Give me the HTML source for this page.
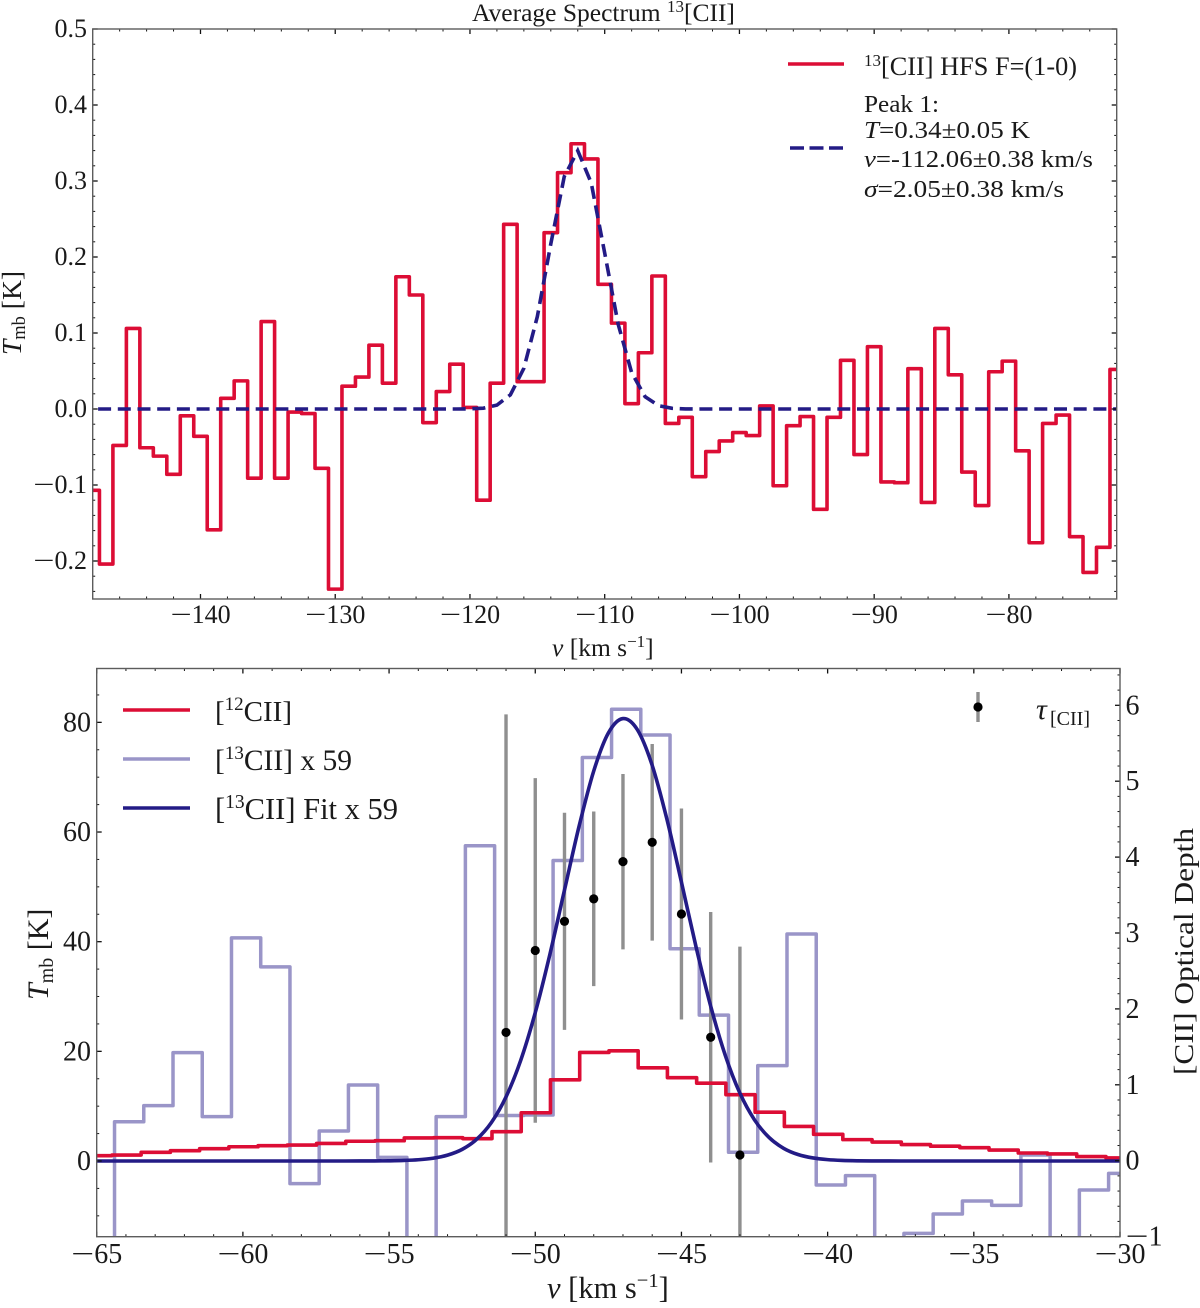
<!DOCTYPE html>
<html lang="en">
<head>
<meta charset="utf-8">
<title>Average Spectrum 13[CII]</title>
<style>
html,body{margin:0;padding:0;background:#fff;}
svg{display:block;}
text{font-family:"Liberation Serif","DejaVu Serif",serif;fill:#1a1a1a;}
.it{font-style:italic;}
</style>
</head>
<body>
<svg id="figure" xmlns="http://www.w3.org/2000/svg" width="1200" height="1308" viewBox="0 0 1200 1308">
<defs>
<clipPath id="clip-top"><rect x="92.7" y="29" width="1024" height="570"/></clipPath>
<clipPath id="clip-bot"><rect x="96.7" y="668.5" width="1023.3" height="568.2"/></clipPath>
</defs>
<rect x="0" y="0" width="1200" height="1308" fill="#fff"/>

<g id="top-plot"></g>
<g id="bot-plot"></g>

<text x="472" y="21" font-size="25.5">Average Spectrum <tspan font-size="17" dy="-9">13</tspan><tspan dy="9">[CII]</tspan></text>

<text transform="translate(21,355) rotate(-90)" font-size="27.5"><tspan class="it">T</tspan><tspan font-size="18.5" dy="4">mb</tspan><tspan dy="-4"> [K]</tspan></text>
<text x="552" y="656" font-size="25.5"><tspan class="it">v</tspan> [km s<tspan font-size="17" dy="-9">−1</tspan><tspan dy="9">]</tspan></text>

<g>
<line x1="788" y1="64" x2="844" y2="64" stroke="#dc0d35" stroke-width="3.5"/>
<text x="864" y="75" font-size="26.3"><tspan font-size="17" dy="-9">13</tspan><tspan dy="9">[CII] HFS F=(1-0)</tspan></text>
<line x1="790" y1="148" x2="844" y2="148" stroke="#231b86" stroke-width="3.5" stroke-dasharray="14,5.5"/>
<text x="864" y="112" font-size="24.5" textLength="75" lengthAdjust="spacingAndGlyphs">Peak 1:</text>
<text x="864" y="138" font-size="24.5" textLength="166" lengthAdjust="spacingAndGlyphs"><tspan class="it">T</tspan>=0.34±0.05 K</text>
<text x="864" y="167" font-size="24.5" textLength="229" lengthAdjust="spacingAndGlyphs"><tspan class="it">v</tspan>=-112.06±0.38 km/s</text>
<text x="864" y="197" font-size="24.5" textLength="200" lengthAdjust="spacingAndGlyphs"><tspan class="it">σ</tspan>=2.05±0.38 km/s</text>
</g>

<text transform="translate(48,1000) rotate(-90)" font-size="30"><tspan class="it">T</tspan><tspan font-size="20" dy="5">mb</tspan><tspan dy="-5"> [K]</tspan></text>
<text transform="translate(1193,1075) rotate(-90)" font-size="27" textLength="247" lengthAdjust="spacingAndGlyphs">[CII] Optical Depth</text>
<text x="547" y="1298" font-size="30.5"><tspan class="it">v</tspan> [km s<tspan font-size="20.5" dy="-11">−1</tspan><tspan dy="11">]</tspan></text>

<g>
<line x1="123" y1="710" x2="190" y2="710" stroke="#dc0d35" stroke-width="3.5"/>
<text x="215" y="721" font-size="29">[<tspan font-size="19" dy="-11">12</tspan><tspan dy="11">CII]</tspan></text>
<line x1="123" y1="759" x2="190" y2="759" stroke="#9a95c8" stroke-width="3.5"/>
<text x="215" y="770" font-size="29.5">[<tspan font-size="19" dy="-11">13</tspan><tspan dy="11">CII] x 59</tspan></text>
<line x1="123" y1="808" x2="190" y2="808" stroke="#231b86" stroke-width="3.5"/>
<text x="215" y="819" font-size="30.5">[<tspan font-size="19.5" dy="-11">13</tspan><tspan dy="11">CII] Fit x 59</tspan></text>
<line x1="978" y1="692" x2="978" y2="722" stroke="#8f8f8f" stroke-width="3.4"/>
<circle cx="978" cy="707" r="4.6" fill="#000"/>
<text x="1036" y="719" font-size="30" class="it">τ</text>
<text x="1050" y="725" font-size="20" textLength="40" lengthAdjust="spacingAndGlyphs">[CII]</text>
</g>

<script>
/* ---------- top panel data ---------- */
const topChannels = [-148,-147,-146,-145,-144,-143,-142,-141,-140,-139,-138,-137,-136,-135,-134,-133,-132,-131,-130,-129,-128,-127,-126,-125,-124,-123,-122,-121,-120,-119,-118,-117,-116,-115,-114,-113,-112,-111,-110,-109,-108,-107,-106,-105,-104,-103,-102,-101,-100,-99,-98,-97,-96,-95,-94,-93,-92,-91,-90,-89,-88,-87,-86,-85,-84,-83,-82,-81,-80,-79,-78,-77,-76,-75,-74,-73,-72];
const topSpectrum = [-0.107,-0.204,-0.048,0.106,-0.051,-0.062,-0.086,-0.009,-0.036,-0.159,
0.014,0.037,-0.091,0.115,-0.091,-0.004,-0.006,-0.078,-0.237,0.030,
0.042,0.084,0.034,0.174,0.150,-0.018,0.023,0.059,0.002,-0.120,
0.034,0.243,0.036,0.036,0.232,0.311,0.349,0.329,0.164,0.113,
0.007,0.074,0.175,-0.019,-0.011,-0.089,-0.056,-0.042,-0.031,-0.035,
0.004,-0.101,-0.022,-0.010,-0.132,-0.011,0.064,-0.060,0.082,-0.096,
-0.097,0.053,-0.123,0.106,0.045,-0.083,-0.127,0.049,0.063,-0.055,
-0.176,-0.019,-0.008,-0.168,-0.215,-0.182,0.052];
const topFitChannels = [-147.6,-147,-146,-145,-144,-143,-142,-141,-140,-139,-138,-137,-136,-135,-134,-133,-132,-131,-130,-129,-128,-127,-126,-125,-124,-123,-122,-121,-120,-119,-118,-117,-116,-115,-114,-113,-112,-111,-110,-109,-108,-107,-106,-105,-104,-103,-102,-101,-100,-99,-98,-97,-96,-95,-94,-93,-92,-91,-90,-89,-88,-87,-86,-85,-84,-83,-82,-81,-80,-79,-78,-77,-76,-75,-74,-73,-72];
const topFit = [0,0,0,0,0,0,0,0,0,0,0,0,0,0,0,0,0,0,0,0,0,0,0,0,0,0,0,0,
0.0002,0.0011,0.0051,0.0187,0.0536,0.1216,0.2173,0.306,0.3399,0.2975,0.2052,0.1116,0.0478,0.0162,0.0043,0.0009,0.0001,
0,0,0,0,0,0,0,0,0,0,0,0,0,0,0,0,0,0,0,0,0,0,0,0,0,0,0,0,0,0,0,0];
const topXTicks = [-140,-130,-120,-110,-100,-90,-80];
const topXMinor = [-146,-144,-142,-138,-136,-134,-132,-128,-126,-124,-122,-118,-116,-114,-112,-108,-106,-104,-102,-98,-96,-94,-92,-88,-86,-84,-82,-78,-76,-74];
const topYTicks = [-0.2,-0.1,0,0.1,0.2,0.3,0.4,0.5];
const topYMinor = [-0.24,-0.22,-0.18,-0.16,-0.14,-0.12,-0.08,-0.06,-0.04,-0.02,0.02,0.04,0.06,0.08,0.12,0.14,0.16,0.18,0.22,0.24,0.26,0.28,0.32,0.34,0.36,0.38,0.42,0.44,0.46,0.48];
const topYLabels = ['−0.2','−0.1','0.0','0.1','0.2','0.3','0.4','0.5'];

/* ---------- bottom panel data ---------- */
const channels12 = [-64.98,-63.98,-62.98,-61.98,-60.98,-59.98,-58.98,-57.98,-56.98,-55.98,-54.98,-53.98,-52.98,-51.98,-50.98,-49.98,-48.98,-47.98,-46.98,-45.98,-44.98,-43.98,-42.98,-41.98,-40.98,-39.98,-38.98,-37.98,-36.98,-35.98,-34.98,-33.98,-32.98,-31.98,-30.98,-29.98];
const spectrum12 = [0.97,1.09,1.58,1.88,2.25,2.6,2.8,2.9,3.2,3.6,3.7,4.2,4.25,4.07,5.35,8.8,14.8,19.8,20.1,17.0,15.2,14.2,12.1,8.9,6.3,4.86,3.9,3.46,3.0,2.7,2.43,2.0,1.46,1.28,0.8,0.55];
const channels13 = [-64.89,-63.89,-62.89,-61.89,-60.89,-59.89,-58.89,-57.89,-56.89,-55.89,-54.89,-53.89,-52.89,-51.89,-50.89,-49.89,-48.89,-47.89,-46.89,-45.89,-44.89,-43.89,-42.89,-41.89,-40.89,-39.89,-38.89,-37.89,-36.89,-35.89,-34.89,-33.89,-32.89,-31.89,-30.89,-29.89];
const spectrum13 = [-20,7.17,10.1,19.76,8.1,40.7,35.4,-4.13,5.47,13.86,0.67,-20,8.1,57.5,8.3,8.4,54.8,73.6,82.4,77.7,38.7,26.6,1.6,17.4,41.4,-4.38,-2.67,-20,-13.2,-9.67,-7.3,-8.1,1.1,-20,-5.3,-2.25];
const fitChannels = [-65,-64.5,-64,-63.5,-63,-62.5,-62,-61.5,-61,-60.5,-60,-59.5,-59,-58.5,-58,-57.5,-57,-56.5,-56,-55.5,-55,-54.5,-54,-53.5,-53,-52.5,-52,-51.5,-51,-50.5,-50,-49.5,-49,-48.5,-48,-47.5,-47,-46.5,-46,-45.5,-45,-44.5,-44,-43.5,-43,-42.5,-42,-41.5,-41,-40.5,-40,-39.5,-39,-38.5,-38,-37.5,-37,-36.5,-36,-35.5,-35,-34.5,-34,-33.5,-33,-32.5,-32,-31.5,-31,-30.5,-30];
const fit13 = [0,0,0,0,0,0,0,0,0,0,0,0,0,0,0,0,0,0,
0.005,0.014,0.037,0.095,0.226,0.505,1.07,2.12,3.98,7.02,11.69,18.32,27.07,37.68,49.42,61.08,71.13,78.05,80.69,78.6,72.15,62.4,50.85,39.04,28.25,19.26,12.37,7.49,4.27,2.3,1.16,0.555,0.25,0.106,0.042,0.016,0.005,
0,0,0,0,0,0,0,0,0,0,0,0,0,0,0,0];
const tauChannels = [-51,-50,-49,-48,-47,-46,-45,-44,-43];
const tauValues = [1.69,2.77,3.154,3.45,3.94,4.195,3.25,1.626,0.075];
const tauErrors = [4.19,2.27,1.43,1.15,1.155,1.295,1.39,1.65,2.745];
const botXTicks = [-65,-60,-55,-50,-45,-40,-35,-30];
const botXLabels = ['−65','−60','−55','−50','−45','−40','−35','−30'];
const botXMinor = [-64,-63,-62,-61,-59,-58,-57,-56,-54,-53,-52,-51,-49,-48,-47,-46,-44,-43,-42,-41,-39,-38,-37,-36,-34,-33,-32,-31];
const botYTicks = [0,20,40,60,80];
const botYMinor = [-10,-5,5,10,15,25,30,35,45,50,55,65,70,75,85];
const rightYTicks = [-1,0,1,2,3,4,5,6];
const rightYLabels = ['−1','0','1','2','3','4','5','6'];
const rightYMinor = [-0.8,-0.6,-0.4,-0.2,0.2,0.4,0.6,0.8,1.2,1.4,1.6,1.8,2.2,2.4,2.6,2.8,3.2,3.4,3.6,3.8,4.2,4.4,4.6,4.8,5.2,5.4,5.6,5.8,6.2,6.4];

/* ---------- axis functions ---------- */
const T = {l:92.7, r:1116.7, t:29, b:599};
const B = {l:96.7, r:1120, t:668.5, b:1236.7};
function topX(v){ return T.l + (v + 148) * (T.r - T.l) / 76; }
function topY(t){ return 409 - t * 760; }
function botX(v){ return B.l + (v + 65) * (B.r - B.l) / 35; }
function botY(t){ return 1161 - t * 5.483; }
function rightY(t){ return 1160.7 - t * 75.9; }

const NS = 'http://www.w3.org/2000/svg';
function mk(tag, parent, attrs){
  const el = document.createElementNS(NS, tag);
  for (const k in attrs) el.setAttribute(k, attrs[k]);
  parent.appendChild(el);
  return el;
}
function stepPath(xs, ys, fx, fy){
  let d = '';
  for (let i = 0; i < xs.length; i++){
    const x0 = fx(xs[i] - 0.5), x1 = fx(xs[i] + 0.5), y = fy(ys[i]);
    d += (i === 0 ? 'M' : 'L') + x0.toFixed(2) + ' ' + y.toFixed(2) + 'L' + x1.toFixed(2) + ' ' + y.toFixed(2);
  }
  return d;
}
function linePath(xs, ys, fx, fy){
  return xs.map(function(v, i){ return (i ? 'L' : 'M') + fx(v).toFixed(2) + ' ' + fy(ys[i]).toFixed(2); }).join('');
}
function smoothPath(xs, ys, fx, fy){
  const p = xs.map(function(v, i){ return [fx(v), fy(ys[i])]; });
  let d = 'M' + p[0][0].toFixed(2) + ' ' + p[0][1].toFixed(2);
  for (let i = 0; i < p.length - 1; i++){
    const a = p[Math.max(i - 1, 0)], b = p[i], c = p[i + 1], e = p[Math.min(i + 2, p.length - 1)];
    d += 'C' + (b[0] + (c[0] - a[0]) / 6).toFixed(2) + ' ' + (b[1] + (c[1] - a[1]) / 6).toFixed(2) + ' ' +
         (c[0] - (e[0] - b[0]) / 6).toFixed(2) + ' ' + (c[1] - (e[1] - b[1]) / 6).toFixed(2) + ' ' +
         c[0].toFixed(2) + ' ' + c[1].toFixed(2);
  }
  return d;
}
function labelText(parent, x, y, label, size, anchor){
  const el = mk('text', parent, {x:x, y:y, 'font-size':size, 'text-anchor':anchor});
  if (label.charAt(0) === '−'){
    const m = mk('tspan', el, {textLength:(size * 0.82).toFixed(1), lengthAdjust:'spacingAndGlyphs'});
    m.textContent = '−';
    const n = mk('tspan', el, {});
    n.textContent = label.slice(1);
  } else {
    el.textContent = label;
  }
  return el;
}
function tick(parent, x1, y1, x2, y2, w){
  return mk('line', parent, {x1:x1, y1:y1, x2:x2, y2:y2, stroke:'#111', 'stroke-width':w});
}

/* ---------- top panel ---------- */
const topPlot = document.getElementById('top-plot');
const topMarks = mk('g', topPlot, {'clip-path':'url(#clip-top)'});



const topLine = mk('path', topMarks, {d:stepPath(topChannels, topSpectrum, topX, topY), fill:'none', stroke:'#dc0d35', 'stroke-width':3.6, 'stroke-linejoin':'round'});



const topFitLine = mk('path', topMarks, {d:linePath(topFitChannels, topFit, topX, topY), fill:'none', stroke:'#231b86', 'stroke-width':3.6, 'stroke-dasharray':'13,6.7'});



const topAxes = mk('g', topPlot, {});



topXTicks.forEach(function(v){
  const a = tick(topAxes, topX(v), T.b, topX(v), T.b - 5, 1.3);
  
  
  const c = tick(topAxes, topX(v), T.t, topX(v), T.t + 5, 1.3);
  
  
  const lab = labelText(topAxes, topX(v), 623, '−' + Math.abs(v), 26, 'middle');
  
  
});
topXMinor.forEach(function(v){
  const a = tick(topAxes, topX(v), T.b, topX(v), T.b - 2.5, 1);
  
  
  const c = tick(topAxes, topX(v), T.t, topX(v), T.t + 2.5, 1);
  
  
});
topYTicks.forEach(function(t, i){
  const a = tick(topAxes, T.l, topY(t), T.l + 5, topY(t), 1.3);
  
  
  const c = tick(topAxes, T.r, topY(t), T.r - 5, topY(t), 1.3);
  
  
  const lab = labelText(topAxes, 87, topY(t) + 8, topYLabels[i], 26, 'end');
  
  
});
topYMinor.forEach(function(t){
  const a = tick(topAxes, T.l, topY(t), T.l + 2.5, topY(t), 1);
  
  
  const c = tick(topAxes, T.r, topY(t), T.r - 2.5, topY(t), 1);
  
  
});
const topFrame = mk('rect', topAxes, {x:T.l, y:T.t, width:T.r - T.l, height:T.b - T.t, fill:'none', stroke:'#5c5c5c', 'stroke-width':1.4});



/* ---------- bottom panel ---------- */
const botPlot = document.getElementById('bot-plot');
const botMarks = mk('g', botPlot, {'clip-path':'url(#clip-bot)'});



const line13 = mk('path', botMarks, {d:stepPath(channels13, spectrum13, botX, botY), fill:'none', stroke:'#9a95c8', 'stroke-width':3.5, 'stroke-linejoin':'round'});



tauChannels.forEach(function(v, i){
  const bar = mk('line', botMarks, {x1:botX(v), x2:botX(v), y1:rightY(tauValues[i] + tauErrors[i]), y2:rightY(tauValues[i] - tauErrors[i]), stroke:'#8f8f8f', 'stroke-width':3.4});
  
  
});

const line12 = mk('path', botMarks, {d:stepPath(channels12, spectrum12, botX, botY), fill:'none', stroke:'#dc0d35', 'stroke-width':3.6, 'stroke-linejoin':'round'});



const lineFit = mk('path', botMarks, {d:smoothPath(fitChannels, fit13, botX, botY), fill:'none', stroke:'#231b86', 'stroke-width':3.6});



tauChannels.forEach(function(v, i){
  const dot = mk('circle', botMarks, {cx:botX(v), cy:rightY(tauValues[i]), r:4.6, fill:'#000'});
  
  
});

const botAxes = mk('g', botPlot, {});



botXTicks.forEach(function(v, i){
  const a = tick(botAxes, botX(v), B.b, botX(v), B.b - 5, 1.3);
  
  
  const c = tick(botAxes, botX(v), B.t, botX(v), B.t + 5, 1.3);
  
  
  const lab = labelText(botAxes, botX(v), 1263, botXLabels[i], 28, 'middle');
  
  
});
botXMinor.forEach(function(v){
  const a = tick(botAxes, botX(v), B.b, botX(v), B.b - 2.5, 1);
  
  
  const c = tick(botAxes, botX(v), B.t, botX(v), B.t + 2.5, 1);
  
  
});
botYTicks.forEach(function(t){
  const a = tick(botAxes, B.l, botY(t), B.l + 5, botY(t), 1.3);
  
  
  const lab = labelText(botAxes, 91, botY(t) + 9, String(t), 28, 'end');
  
  
});
botYMinor.forEach(function(t){
  const a = tick(botAxes, B.l, botY(t), B.l + 2.5, botY(t), 1);
  
  
});
rightYTicks.forEach(function(t, i){
  const a = tick(botAxes, B.r, rightY(t), B.r - 5, rightY(t), 1.3);
  
  
  const lab = labelText(botAxes, 1125.5, rightY(t) + 9, rightYLabels[i], 28, 'start');
  
  
});
rightYMinor.forEach(function(t){
  const a = tick(botAxes, B.r, rightY(t), B.r - 2.5, rightY(t), 1);
  
  
});
const botFrame = mk('rect', botAxes, {x:B.l, y:B.t, width:B.r - B.l, height:B.b - B.t, fill:'none', stroke:'#5c5c5c', 'stroke-width':1.4});


</script>
</svg>
</body>
</html>
